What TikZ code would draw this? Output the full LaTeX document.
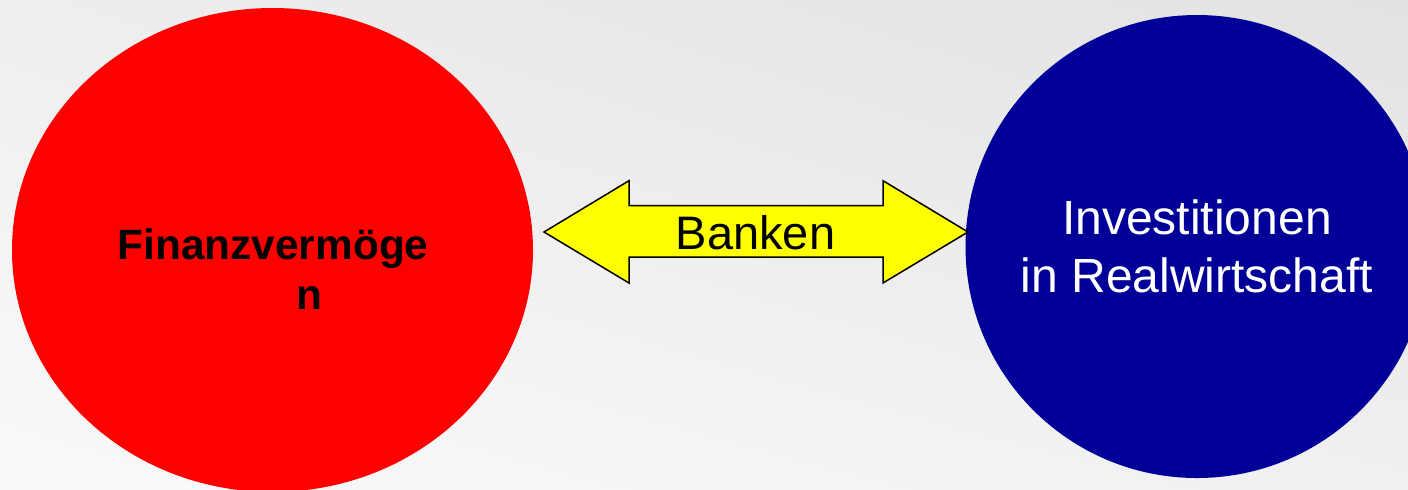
\documentclass[tikz,border=0pt]{standalone}
\usepackage{fontspec}
\setmainfont{Liberation Sans}
\usetikzlibrary{shapes.geometric,shadings}
\definecolor{finred}{HTML}{FF0000}
\definecolor{invblue}{HTML}{000099}
\definecolor{bankyellow}{HTML}{FFFF00}
\definecolor{bgul}{RGB}{238,238,238}
\definecolor{bgur}{RGB}{226,226,226}
\definecolor{bgll}{RGB}{250,250,250}
\definecolor{bglr}{RGB}{240,240,240}
\tikzset{
  blob/.style={draw=none, inner sep=0pt, outer sep=0pt},
  arrowshape/.style={draw=black, line width=0.75pt, fill=bankyellow, line join=miter},
}
\begin{document}
\begin{tikzpicture}[x=0.5pt,y=-0.5pt]
  \clip (0,0) rectangle (1408,489);
  \useasboundingbox (0,0) rectangle (1408,489);
  \shade[upper left=bgul, upper right=bgur, lower left=bgll, lower right=bglr]
    (0,0) rectangle (1408,489);
  % red ellipse
  \node[blob, ellipse, fill=finred, minimum width=260.5pt, minimum height=242pt] (fin) at (272.5,250) {};
  \node[font=\fontsize{21.2pt}{25pt}\selectfont\bfseries, align=center, text=black, inner sep=0pt] (fintext) at (273,269.5)
    {Finanzvermöge\\\hspace*{36pt}n};
  % blue circle
  \node[blob, circle, fill=invblue, minimum size=231.5pt, text=white, align=center,
        font=\fontsize{24pt}{29pt}\selectfont] (inv) at (1197,246.5)
    {Investitionen\\in Realwirtschaft};
  % double arrow
  \coordinate (ac) at (756,232);
  \draw[arrowshape] (544,232) -- (629,180.7) -- (629,205.7) -- (883,205.7) -- (883,180.7)
    -- (968,232) -- (883,283) -- (883,257) -- (629,257) -- (629,283) -- cycle;
  \node[font=\fontsize{23.5pt}{28pt}\selectfont, inner sep=0pt] (banken) at (755.5,233) {Banken};
\end{tikzpicture}
\end{document}
